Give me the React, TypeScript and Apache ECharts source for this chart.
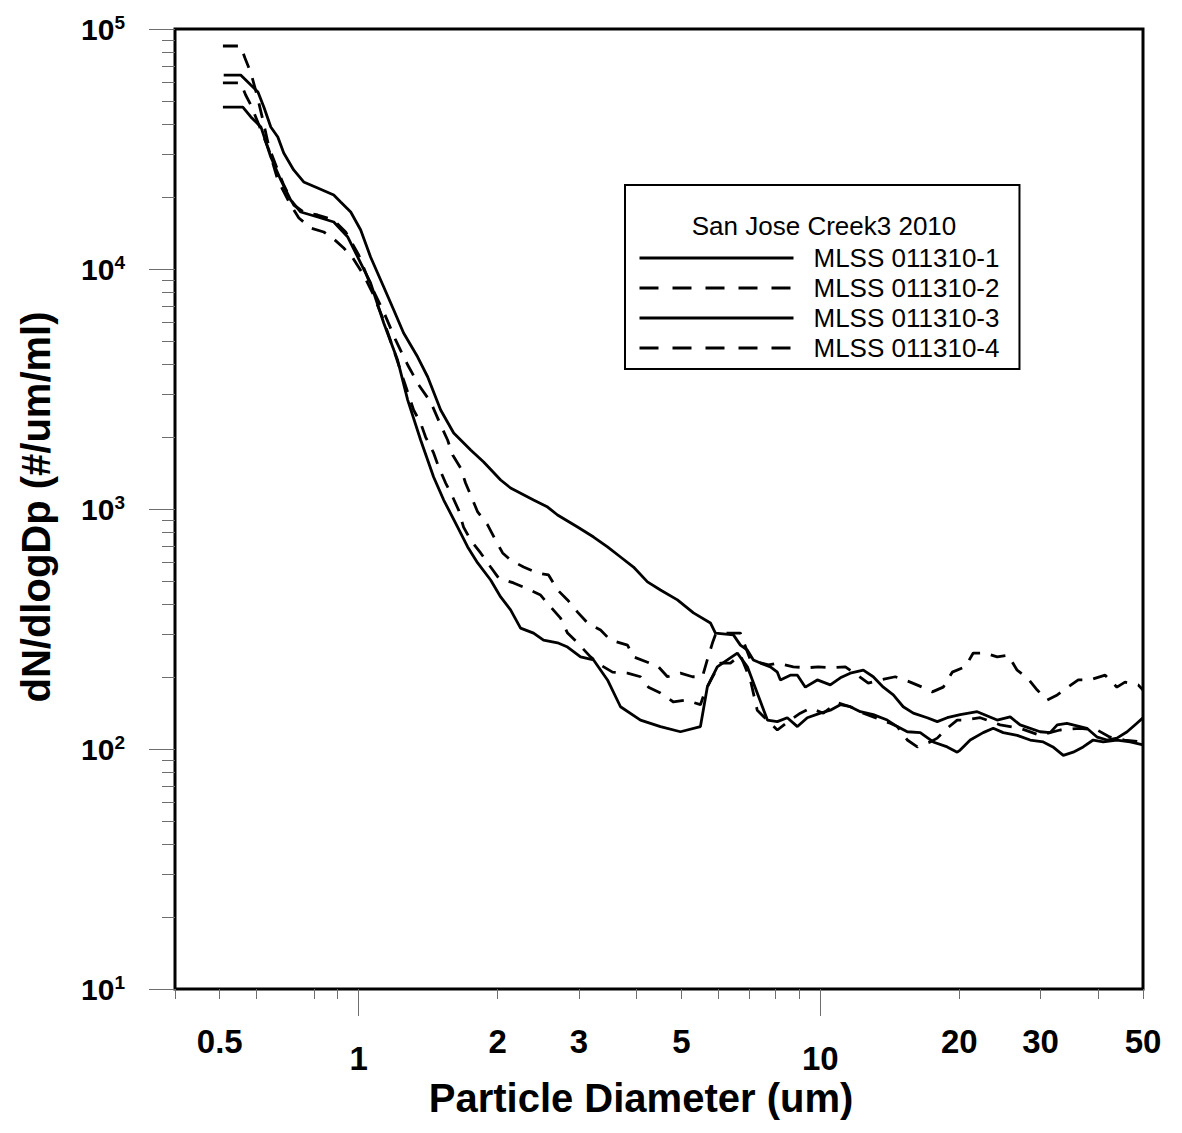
import React, { useEffect, useRef } from "react";
import * as echarts from "echarts";

// ---------- data (diameter in um, dN/dlogDp in #/um/ml) ----------
const seriesNames = ["MLSS 011310-1", "MLSS 011310-2", "MLSS 011310-3", "MLSS 011310-4"];

const mlss1: [number, number][] = [
  [0.51, 64300], [0.555, 64300], [0.584, 58400], [0.605, 54640], [0.623, 47300], [0.645, 39080],
  [0.668, 35480], [0.688, 30430], [0.723, 25860], [0.76, 23050], [0.815, 21750], [0.883, 20330],
  [0.914, 19010], [0.961, 17280], [1.01, 14540], [1.061, 11220], [1.133, 8414], [1.191, 6745],
  [1.251, 5408], [1.342, 4297], [1.411, 3548], [1.505, 2585], [1.606, 2073], [1.748, 1760],
  [1.865, 1570], [2.03, 1321], [2.133, 1223], [2.392, 1090], [2.566, 1019], [2.696, 944],
  [2.979, 841], [3.227, 764], [3.459, 695], [3.691, 631], [3.938, 573], [4.222, 497],
  [4.505, 460], [4.902, 418], [5.311, 369], [5.78, 335], [5.926, 304], [6.482, 299],
  [6.712, 271], [6.95, 258], [7.16, 235], [7.416, 228], [7.795, 220], [8.07, 209],
  [8.193, 194], [8.61, 203], [8.92, 203], [9.28, 181], [9.85, 194], [10.51, 185],
  [11.05, 198], [11.61, 207], [12.39, 213], [13.02, 200], [13.69, 181], [14.39, 168],
  [15.12, 150], [15.9, 141], [17.04, 135], [17.92, 130], [18.83, 135], [20.09, 139],
  [21.87, 143], [24.16, 132], [25.78, 136], [27.09, 126], [29.93, 118], [31.46, 117],
  [32.6, 126], [34.2, 128], [37.8, 122], [39.8, 112], [41.8, 109], [43.9, 111],
  [46.2, 118], [48.5, 128], [50, 135],
];

const mlss2: [number, number][] = [
  [0.508, 84950], [0.555, 84950], [0.567, 75700], [0.584, 65600], [0.602, 53090], [0.62, 41770],
  [0.639, 32240], [0.665, 26350], [0.688, 22390], [0.723, 18480], [0.76, 17280], [0.815, 16790],
  [0.883, 16000], [0.937, 14260], [1.0, 11440], [1.061, 8577], [1.133, 6620], [1.202, 5061],
  [1.277, 3981], [1.349, 3286], [1.432, 2791], [1.505, 2239], [1.558, 1939], [1.598, 1679],
  [1.663, 1482], [1.704, 1283], [1.766, 1090], [1.81, 972], [1.902, 858], [1.979, 742],
  [2.05, 656], [2.133, 613], [2.276, 573], [2.44, 541], [2.578, 531], [2.696, 460],
  [2.834, 418], [2.979, 372], [3.131, 335], [3.341, 313], [3.512, 284], [3.822, 271],
  [3.938, 242], [4.222, 230], [4.46, 220], [4.665, 200], [4.977, 207], [5.284, 200],
  [5.554, 200], [5.69, 235], [5.84, 277], [5.926, 299], [6.29, 304], [6.712, 304],
  [7.055, 235], [7.72, 224], [8.07, 228], [8.74, 220], [9.37, 218], [9.9, 220],
  [10.62, 218], [11.33, 220], [12.03, 203], [12.7, 188], [13.49, 194], [14.53, 200],
  [15.66, 190], [16.63, 181], [17.48, 173], [18.46, 181], [19.31, 209], [20.6, 220],
  [21.44, 251], [22.76, 251], [24.16, 242], [25.52, 246], [26.69, 213], [28.06, 198],
  [29.5, 176], [31.0, 160], [32.6, 168], [34.4, 181], [36.2, 194], [38.4, 194],
  [41.4, 203], [43.9, 181], [45.7, 190], [48.8, 185], [50, 176],
];

const mlss3: [number, number][] = [
  [0.508, 47300], [0.561, 47300], [0.584, 43000], [0.614, 39080], [0.645, 29290], [0.678, 23490],
  [0.712, 19390], [0.749, 17280], [0.815, 16470], [0.883, 15700], [0.947, 13590], [1.01, 10590],
  [1.061, 8747], [1.133, 5957], [1.214, 4177], [1.277, 2843], [1.362, 1939], [1.453, 1359],
  [1.528, 1090], [1.638, 841], [1.722, 695], [1.81, 596], [1.931, 506], [2.03, 430],
  [2.133, 380], [2.242, 319], [2.392, 304], [2.514, 284], [2.696, 277], [2.834, 266],
  [3.024, 242], [3.227, 235], [3.459, 194], [3.691, 150], [4.078, 132], [4.505, 124],
  [4.977, 118], [5.499, 124], [5.69, 181], [5.98, 220], [6.29, 235], [6.61, 251],
  [6.95, 220], [7.3, 171], [7.68, 132], [8.07, 130], [8.48, 135], [8.92, 124],
  [9.37, 135], [10.0, 141], [10.51, 145], [11.05, 153], [11.61, 150], [12.21, 143],
  [13.02, 139], [13.96, 132], [14.68, 124], [15.43, 118], [16.46, 117], [17.56, 107],
  [18.83, 102], [19.79, 97], [20.09, 99], [21.12, 109], [22.53, 117], [23.69, 122],
  [24.9, 117], [26.7, 114], [28.48, 109], [30.4, 107], [31.9, 102], [33.6, 94],
  [35.3, 97], [37.1, 102], [39.0, 109], [41.0, 107], [43.9, 109], [46.9, 107], [50, 104],
];

const mlss4: [number, number][] = [
  [0.508, 59600], [0.555, 59600], [0.569, 53090], [0.584, 48250], [0.608, 39810], [0.639, 31310],
  [0.668, 23490], [0.712, 18480], [0.742, 16310], [0.787, 14820], [0.84, 14260], [0.878, 13460],
  [0.928, 12230], [0.971, 11110], [1.025, 9441], [1.072, 7943], [1.127, 6249], [1.191, 4597],
  [1.251, 3447], [1.315, 2585], [1.362, 2282], [1.396, 1995], [1.453, 1712], [1.49, 1496],
  [1.543, 1283], [1.598, 1122], [1.646, 990], [1.687, 841], [1.748, 742], [1.837, 656],
  [1.931, 573], [2.009, 516], [2.165, 492], [2.299, 469], [2.477, 438], [2.604, 391],
  [2.737, 351], [2.834, 304], [2.979, 277], [3.178, 242], [3.341, 224], [3.547, 209],
  [3.822, 207], [4.078, 200], [4.243, 181], [4.505, 171], [4.806, 157], [5.104, 160],
  [5.499, 153], [5.64, 176], [5.84, 200], [6.075, 228], [6.386, 228], [6.712, 246],
  [7.055, 194], [7.3, 145], [7.795, 128], [8.07, 120], [8.61, 132], [9.05, 141],
  [9.515, 148], [10.15, 141], [10.88, 156], [11.61, 150], [12.39, 141], [13.02, 136],
  [14.17, 128], [14.68, 124], [15.43, 109], [16.22, 102], [17.3, 107], [17.92, 111],
  [18.83, 122], [19.79, 132], [20.39, 132], [22.2, 135], [24.52, 126], [27.09, 122],
  [29.93, 114], [33.07, 120], [36.54, 122], [39.8, 120], [42.43, 112], [45.6, 109], [50, 107],
];

const seriesData = [mlss1, mlss2, mlss3, mlss4];
const seriesDashed = [false, true, false, true];

// ---------- axis ticks / labels ----------
const xRange = [0.4, 50];
const yRange = [10, 100000];
const xMajorLabels = [1, 10];
const xMinorLabels = [0.5, 2, 3, 5, 20, 30, 50];
const xMinorTicks = [0.4, 0.5, 0.6, 0.8, 0.9, 2, 3, 4, 5, 6, 7, 8, 9, 20, 30, 40, 50];
const yDecades = [10, 100, 1000, 10000, 100000];
const yMinorTicks = [
  20, 30, 40, 50, 60, 70, 80, 90,
  200, 300, 400, 500, 600, 700, 800, 900,
  2000, 3000, 4000, 5000, 6000, 7000, 8000, 9000,
  20000, 30000, 40000, 50000, 60000, 70000, 80000, 90000,
];

const legendTitle = "San Jose Creek3 2010";
const xTitle = "Particle Diameter (um)";
const yTitle = "dN/dlogDp (#/um/ml)";

const FONT = "'Liberation Sans', Arial, Helvetica, sans-serif";
const TICK_COLOR = "#6e6e6e";

function fmtX(v: number): string {
  const r = Math.round(v * 10) / 10;
  return r < 1 ? r.toFixed(1) : String(Math.round(r));
}

function buildOption(): any {
  const xLabelStyle = {
    color: "#000",
    fontFamily: FONT,
    fontWeight: "bold",
    fontSize: 33,
  };
  return {
    animation: false,
    backgroundColor: "#fff",
    grid: {
      left: 175,
      top: 29,
      width: 968,
      height: 960,
      show: true,
      borderColor: "#000",
      borderWidth: 3,
      backgroundColor: "transparent",
    },
    xAxis: [
      {
        type: "log",
        logBase: 10,
        min: xRange[0],
        max: xRange[1],
        position: "bottom",
        axisLine: { show: false },
        splitLine: { show: false },
        minorTick: { show: false },
        axisTick: {
          show: true,
          inside: false,
          length: 27,
          customValues: xMajorLabels,
          lineStyle: { color: TICK_COLOR, width: 1 },
        },
        axisLabel: {
          show: true,
          customValues: xMajorLabels,
          margin: 53,
          formatter: (v: number) => fmtX(v),
          ...xLabelStyle,
        },
      },
      {
        type: "log",
        logBase: 10,
        min: xRange[0],
        max: xRange[1],
        position: "bottom",
        axisLine: { show: false },
        splitLine: { show: false },
        axisTick: {
          show: true,
          inside: false,
          length: 10,
          customValues: xMinorTicks,
          lineStyle: { color: TICK_COLOR, width: 1 },
        },
        axisLabel: {
          show: true,
          customValues: xMinorLabels,
          margin: 36,
          formatter: (v: number) => fmtX(v),
          ...xLabelStyle,
        },
      },
    ],
    yAxis: [
      {
        type: "log",
        logBase: 10,
        min: yRange[0],
        max: yRange[1],
        position: "left",
        axisLine: { show: false },
        splitLine: { show: false },
        axisTick: {
          show: true,
          inside: false,
          length: 26,
          customValues: yDecades,
          lineStyle: { color: TICK_COLOR, width: 1 },
        },
        axisLabel: {
          show: true,
          customValues: yDecades,
          margin: 50,
          formatter: (v: number) => `{b|10}{s|${Math.round(Math.log10(v))}}`,
          rich: {
            b: {
              fontFamily: FONT,
              fontWeight: "bold",
              fontSize: 30,
              lineHeight: 32,
              color: "#000",
            },
            s: {
              fontFamily: FONT,
              fontWeight: "bold",
              fontSize: 19,
              lineHeight: 19,
              verticalAlign: "top",
              color: "#000",
            },
          },
        },
      },
      {
        type: "log",
        logBase: 10,
        min: yRange[0],
        max: yRange[1],
        position: "left",
        axisLine: { show: false },
        splitLine: { show: false },
        axisTick: {
          show: true,
          inside: false,
          length: 13,
          customValues: yMinorTicks,
          lineStyle: { color: TICK_COLOR, width: 1 },
        },
        axisLabel: { show: false },
      },
    ],
    legend: {
      show: true,
      orient: "vertical",
      left: 625,
      top: 185,
      padding: [60, 20, 8, 13],
      itemWidth: 154,
      itemHeight: 26,
      itemGap: 4,
      borderColor: "#000",
      borderWidth: 2,
      backgroundColor: "#fff",
      selectedMode: false,
      itemStyle: { opacity: 0, borderWidth: 0 },
      textStyle: {
        fontFamily: FONT,
        fontSize: 26,
        color: "#000",
        padding: [0, 0, 0, 15],
      },
      data: seriesNames.map((name, i) => ({
        name,
        itemStyle: { opacity: 0, borderWidth: 0 },
        lineStyle: {
          color: "#000",
          width: 3,
          opacity: 1,
          type: seriesDashed[i] ? [19, 14] : "solid",
        },
      })),
    },
    graphic: [
      {
        type: "text",
        x: 824,
        y: 226,
        z: 100,
        style: {
          text: legendTitle,
          fontFamily: FONT,
          fontSize: 26,
          fill: "#000",
          textAlign: "center",
          textVerticalAlign: "middle",
          align: "center",
          verticalAlign: "middle",
        },
      },
      {
        type: "text",
        x: 641,
        y: 1098,
        style: {
          text: xTitle,
          fontFamily: FONT,
          fontWeight: "bold",
          fontSize: 40,
          fill: "#000",
          textAlign: "center",
          textVerticalAlign: "middle",
          align: "center",
          verticalAlign: "middle",
        },
      },
      {
        type: "text",
        x: 36,
        y: 507,
        rotation: Math.PI / 2,
        style: {
          text: yTitle,
          fontFamily: FONT,
          fontWeight: "bold",
          fontSize: 40,
          fill: "#000",
          textAlign: "center",
          textVerticalAlign: "middle",
          align: "center",
          verticalAlign: "middle",
        },
      },
    ],
    series: seriesData.map((data, i) => ({
      name: seriesNames[i],
      type: "line",
      xAxisIndex: 0,
      yAxisIndex: 0,
      data,
      showSymbol: false,
      symbol: "none",
      silent: true,
      clip: true,
      itemStyle: { color: "#000" },
      lineStyle: {
        color: "#000",
        width: 2.8,
        type: seriesDashed[i] ? [15, 11] : "solid",
      },
      z: 3,
    })),
  };
}

export default function App() {
  const ref = useRef<HTMLDivElement>(null);
  useEffect(() => {
    if (!ref.current) return;
    const chart = echarts.init(ref.current, null, { renderer: "svg" });
    chart.setOption(buildOption());
    return () => {
      chart.dispose();
    };
  }, []);
  return (
    <div
      ref={ref}
      style={{
        position: "absolute",
        left: 0,
        top: 0,
        width: 1182,
        height: 1133,
        background: "#fff",
      }}
    />
  );
}
